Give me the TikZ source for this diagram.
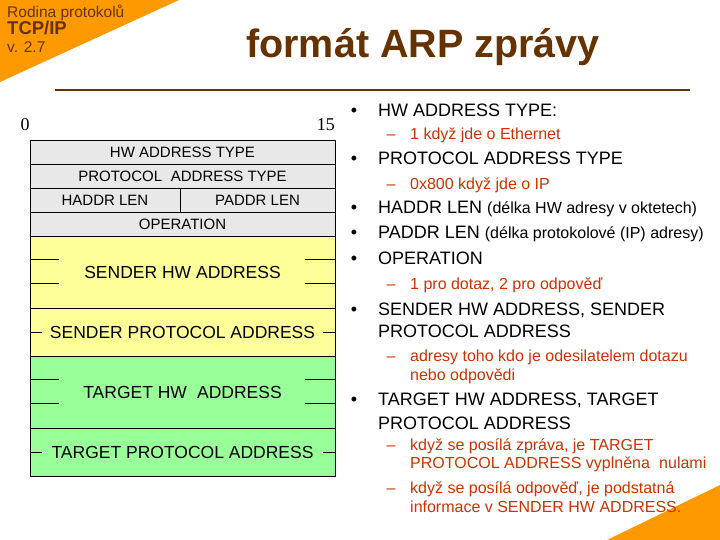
\documentclass[tikz,border=0pt]{standalone}
\usepackage{fontspec}
\setmainfont{Liberation Sans}
\newfontfamily\serifnum{Liberation Serif}
\definecolor{brownc}{HTML}{663300}
\definecolor{orangec}{HTML}{FF9900}
\definecolor{redt}{HTML}{CC3300}
\definecolor{grayf}{HTML}{E8E8E8}
\definecolor{yellowf}{HTML}{FFFF99}
\definecolor{greenf}{HTML}{99FF99}
\begin{document}
\begin{tikzpicture}[x=1pt,y=-1pt,
 field/.style={draw=black, line width=0.8pt, inner sep=0pt, align=center},
 smallf/.style={font=\fontsize{15}{18}\selectfont},
 bigf/.style={font=\fontsize{17.5}{20}\selectfont},
 bl/.style={anchor=base west, inner sep=0pt, font=\fontsize{18}{21}\selectfont, text=black},
 rl/.style={anchor=base west, inner sep=0pt, font=\fontsize{16}{19}\selectfont, text=redt},
 dotm/.style={anchor=base, inner sep=0pt, font=\fontsize{18}{20}\selectfont},
 dshm/.style={anchor=base, inner sep=0pt, font=\fontsize{16}{19}\selectfont, text=redt},
 tickl/.style={line width=0.8pt}]
\useasboundingbox (0,0) rectangle (720,540);
\fill[white] (0,0) rectangle (720,540);
% corner triangles
\fill[orangec] (0,0) -- (179,0) -- (0,82) -- cycle;
\fill[orangec] (720,485) -- (720,540) -- (607,540) -- cycle;
% header
\node[anchor=base west, inner sep=0pt, text=brownc, font=\fontsize{15.5}{17}\selectfont] (hdr1) at (7,18) {Rodina protokolů};
\node[anchor=base west, inner sep=0pt, text=brownc, font=\fontsize{18.5}{20}\selectfont\bfseries] (hdr2) at (7,34.5) {TCP/IP};
\node[anchor=base west, inner sep=0pt, text=brownc, font=\fontsize{15.5}{17}\selectfont] (hdr3) at (7,53) {v. 2.7};
\node[anchor=base, inner sep=0pt, text=brownc, font=\fontsize{39.5}{44}\selectfont\bfseries] (title) at (423,58) {formát ARP zprávy};
\draw[brownc, line width=2.5pt] (55,90) -- (690,90);
% bit labels
\node[anchor=base, inner sep=0pt, font=\serifnum\fontsize{18}{20}\selectfont] (b0) at (25,131) {0};
\node[anchor=base east, inner sep=0pt, font=\serifnum\fontsize{18}{20}\selectfont] (b15) at (335,131) {15};
% table
\node[field, smallf, fill=grayf, minimum width=305pt, minimum height=24pt] (hwt) at (182.5,152) {HW ADDRESS TYPE};
\node[field, smallf, fill=grayf, minimum width=305pt, minimum height=24pt] (pat) at (182.5,176) {PROTOCOL\hspace{0.3em} ADDRESS TYPE};
\node[field, smallf, fill=grayf, minimum width=150pt, minimum height=24pt] (hlen) at (105,200) {HADDR LEN};
\node[field, smallf, fill=grayf, minimum width=155pt, minimum height=24pt] (plen) at (257.5,200) {PADDR LEN};
\node[field, smallf, fill=grayf, minimum width=305pt, minimum height=24pt] (op) at (182.5,224) {OPERATION};
\node[field, bigf, fill=yellowf, minimum width=305pt, minimum height=72pt] (shw) at (182.5,272) {SENDER HW ADDRESS};
\node[field, bigf, fill=yellowf, minimum width=305pt, minimum height=48pt] (spa) at (182.5,332) {SENDER PROTOCOL ADDRESS};
\node[field, bigf, fill=greenf, minimum width=305pt, minimum height=72pt] (thw) at (182.5,392) {TARGET HW\hspace{0.3em} ADDRESS};
\node[field, bigf, fill=greenf, minimum width=305pt, minimum height=48pt] (tpa) at (182.5,452) {TARGET PROTOCOL ADDRESS};
% ticks
\foreach \n in {shw,thw}{
  \draw[tickl] ([yshift=-24pt]\n.north west) -- ++(29,0);
  \draw[tickl] ([yshift=-48pt]\n.north west) -- ++(29,0);
  \draw[tickl] ([yshift=-24pt]\n.north east) -- ++(-30,0);
  \draw[tickl] ([yshift=-48pt]\n.north east) -- ++(-30,0);
}
\foreach \n in {spa,tpa}{
  \draw[tickl] (\n.west) -- ++(12,0);
  \draw[tickl] (\n.east) -- ++(-12,0);
}
% right column
\node[dotm] (d1) at (354,117) {•};
\node[bl] (t1) at (378,117) {HW ADDRESS TYPE:};
\node[dshm] (e1) at (391,140) {–};
\node[rl] (r1) at (410,140) {1 když jde o Ethernet};
\node[dotm] (d2) at (354,165) {•};
\node[bl] (t2) at (378,165) {PROTOCOL ADDRESS TYPE};
\node[dshm] (e2) at (391,190) {–};
\node[rl] (r2) at (410,190) {0x800 když jde o IP};
\node[dotm] (d3) at (354,214) {•};
\node[bl] (t3) at (378,214) {HADDR LEN {\fontsize{16}{19}\selectfont(délka HW adresy v oktetech)}};
\node[dotm] (d4) at (354,239) {•};
\node[bl] (t4) at (378,239) {PADDR LEN {\fontsize{16}{19}\selectfont(délka protokolové (IP) adresy)}};
\node[dotm] (d5) at (354,264.5) {•};
\node[bl] (t5) at (378,264.5) {OPERATION};
\node[dshm] (e5) at (391,289) {–};
\node[rl] (r5) at (410,289) {1 pro dotaz, 2 pro odpověď};
\node[dotm] (d6) at (354,315) {•};
\node[bl] (t6) at (378,315) {SENDER HW ADDRESS, SENDER};
\node[bl] (t6b) at (378,337) {PROTOCOL ADDRESS};
\node[dshm] (e6) at (391,361) {–};
\node[rl] (r6) at (410,361) {adresy toho kdo je odesilatelem dotazu};
\node[rl] (r6b) at (410,380) {nebo odpovědi};
\node[dotm] (d7) at (354,405) {•};
\node[bl] (t7) at (378,405) {TARGET HW ADDRESS, TARGET};
\node[bl] (t7b) at (378,429) {PROTOCOL ADDRESS};
\node[dshm] (e7) at (391,450) {–};
\node[rl] (r7) at (410,450) {když se posílá zpráva, je TARGET};
\node[rl] (r7b) at (410,468.5) {PROTOCOL ADDRESS vyplněna\hspace{0.3em} nulami};
\node[dshm] (e8) at (391,493) {–};
\node[rl] (r8) at (410,493) {když se posílá odpověď, je podstatná};
\node[rl] (r8b) at (410,512) {informace v SENDER HW ADDRESS.};
\end{tikzpicture}
\end{document}
